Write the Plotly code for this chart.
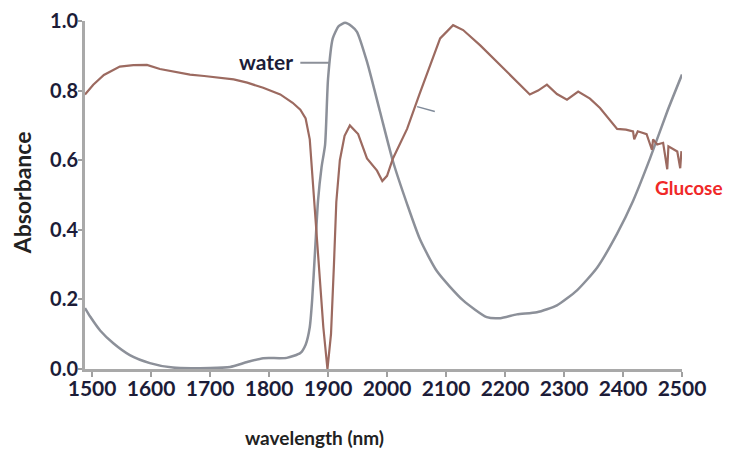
import plotly.graph_objects as go

# Water absorbance spectrum (wavelength nm, absorbance)
water_wl = [1488, 1497, 1514, 1536, 1564, 1598, 1637, 1700, 1734, 1763, 1790, 1830, 1853,
            1862, 1869, 1873, 1878, 1883, 1889, 1895, 1900, 1908, 1918, 1929, 1940, 1949,
            1966, 1988, 2010, 2034, 2056, 2085, 2129, 2169, 2192, 2220, 2254, 2288, 2322,
            2356, 2390, 2417, 2446, 2475, 2500]
water_abs = [0.175, 0.15, 0.11, 0.074, 0.04, 0.017, 0.004, 0.003, 0.006, 0.02, 0.031, 0.032, 0.046,
             0.07, 0.12, 0.197, 0.34, 0.483, 0.58, 0.645, 0.834, 0.95, 0.985, 0.995, 0.985, 0.969,
             0.883, 0.74, 0.597, 0.474, 0.372, 0.28, 0.197, 0.149, 0.146, 0.157, 0.163, 0.183, 0.226,
             0.291, 0.389, 0.483, 0.606, 0.74, 0.846]

# Glucose absorbance spectrum
glucose_wl = [1488, 1502, 1520, 1547, 1570, 1593, 1615, 1640, 1666, 1690, 1717, 1740, 1763, 1790,
              1819, 1840, 1853, 1862, 1869, 1878, 1885, 1892, 1899, 1905, 1910, 1914, 1920, 1928,
              1937, 1951, 1966, 1983, 1992, 2000, 2010, 2034, 2055, 2073, 2090, 2112, 2129, 2158,
              2192, 2220, 2242, 2256, 2271, 2288, 2305, 2324, 2344, 2361, 2390, 2405, 2417, 2419,
              2425, 2440, 2449, 2451, 2458, 2468, 2475, 2477, 2486, 2492, 2497, 2499]
glucose_abs = [0.789, 0.817, 0.845, 0.869, 0.873, 0.874, 0.862, 0.855, 0.846, 0.842, 0.837, 0.832,
               0.823, 0.808, 0.789, 0.765, 0.745, 0.72, 0.66, 0.45, 0.26, 0.12, 0.0, 0.1, 0.3, 0.48,
               0.6, 0.67, 0.70, 0.675, 0.605, 0.57, 0.54, 0.555, 0.605, 0.69, 0.79, 0.874, 0.95,
               0.988, 0.974, 0.93, 0.874, 0.826, 0.789, 0.80, 0.817, 0.79, 0.774, 0.797, 0.777, 0.75,
               0.69, 0.688, 0.683, 0.66, 0.683, 0.675, 0.63, 0.66, 0.645, 0.65, 0.574, 0.64, 0.63,
               0.625, 0.577, 0.626]

x_ticks = [1500, 1600, 1700, 1800, 1900, 2000, 2100, 2200, 2300, 2400, 2500]
y_ticks = [0.0, 0.2, 0.4, 0.6, 0.8, 1.0]

TICK_COLOR = "#1c1c38"
FONT = "Lato"

fig = go.Figure()
fig.add_trace(go.Scatter(x=water_wl, y=water_abs, mode="lines", name="water",
                         line=dict(color="#8c9099", width=2.5, shape="spline", smoothing=0.6)))
fig.add_trace(go.Scatter(x=glucose_wl, y=glucose_abs, mode="lines", name="Glucose",
                         line=dict(color="#9c6a60", width=2.2)))

# leader lines
fig.add_shape(type="line", xref="x", yref="y", x0=1853, x1=1902, y0=0.88, y1=0.88,
              line=dict(color="#8c9099", width=2))
fig.add_shape(type="line", xref="x", yref="y", x0=2051, x1=2081, y0=0.754, y1=0.74,
              line=dict(color="#7f8a99", width=1.5))

fig.add_annotation(x=1795, y=0.885, xref="x", yref="y", text="water", showarrow=False,
                   xanchor="center",
                   font=dict(family=FONT, size=21, color=TICK_COLOR, weight="bold"))
fig.add_annotation(x=1.012, y=0.523, xref="paper", yref="y", text="Glucose", showarrow=False,
                   xanchor="center",
                   font=dict(family=FONT, size=19, color="#f02828", weight="bold"))
fig.add_annotation(x=0.385, y=-0.197, xref="paper", yref="paper",
                   text="wavelength (nm)", showarrow=False, xanchor="center", yanchor="middle",
                   font=dict(family=FONT, size=19, color="#222222", weight="bold"))
fig.add_annotation(x=-0.1055, y=0.505, xref="paper", yref="paper", text="Absorbance",
                   showarrow=False, textangle=-90, xanchor="center", yanchor="middle",
                   font=dict(family=FONT, size=23, color="#222222", weight="bold"))

fig.update_layout(
    width=733, height=461,
    margin=dict(l=77, r=59, t=13, b=100),
    paper_bgcolor="white", plot_bgcolor="white",
    showlegend=False,
)
fig.update_xaxes(range=[1488, 2500], tickvals=x_ticks, ticks="outside", ticklen=5,
                 tickcolor="#a0a0a0", tickwidth=1.5, showline=True, linecolor="#a9a9a9",
                 linewidth=3, showgrid=False, zeroline=False, ticklabelstandoff=-6,
                 ticklabeloverflow="allow",
                 tickfont=dict(family=FONT, size=21, color=TICK_COLOR, weight="bold"))
fig.update_yaxes(range=[0, 1.0], tickvals=y_ticks, tickformat=".1f", ticks="outside",
                 ticklen=4, tickcolor="#a0a0a0", tickwidth=1.5, showline=True,
                 linecolor="#a9a9a9", linewidth=3, showgrid=False, zeroline=False,
                 ticklabelstandoff=-4, ticklabeloverflow="allow", automargin=False,
                 tickfont=dict(family=FONT, size=20, color=TICK_COLOR, weight="bold"))

fig.write_html("out.html")
